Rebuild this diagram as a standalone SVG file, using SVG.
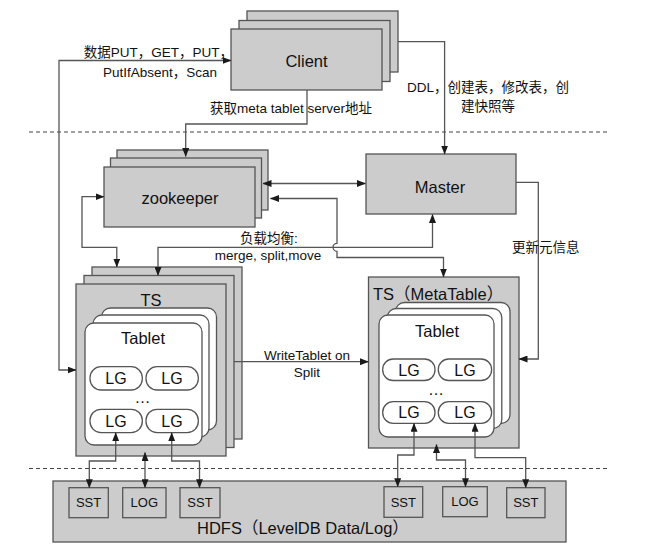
<svg xmlns="http://www.w3.org/2000/svg" width="649" height="554" viewBox="0 0 649 554">
<style>
.box{fill:#cccccc;stroke:#555;stroke-width:1.3}
.wb{fill:#ffffff;stroke:#555;stroke-width:1.3}
.edge{fill:none;stroke:#555;stroke-width:1.3}
.sep{stroke:#444;stroke-width:1.2;stroke-dasharray:4 3}
text{font-family:"Liberation Sans","Noto Sans CJK SC",sans-serif;fill:#111}
.lbl{font-size:13.5px;text-anchor:middle}
.nd{font-size:16.5px;text-anchor:middle}
.lg{font-size:16px;text-anchor:middle}
.sm{font-size:13px;text-anchor:middle}
</style>
<defs>
<marker id="ah" viewBox="0 0 9 7" refX="8.5" refY="3.5" markerWidth="9" markerHeight="7" markerUnits="userSpaceOnUse" orient="auto-start-reverse">
<path d="M0,0 L9,3.5 L0,7 z" fill="#1a1a1a"/>
</marker>
</defs>
<rect width="649" height="554" fill="#ffffff"/>

<g id="separators">
<line class="sep" x1="29" y1="132" x2="608" y2="132"/>
<line class="sep" x1="29" y1="468.5" x2="608" y2="468.5"/>
</g>

<g id="client">
<rect class="box" x="247" y="11" width="151" height="61"/>
<rect class="box" x="239" y="20.5" width="151" height="61"/>
<rect class="box" x="231" y="29" width="151" height="61"/>
<text class="nd" x="306.5" y="67">Client</text>
</g>

<g id="zookeeper">
<rect class="box" x="117" y="150" width="151" height="60"/>
<rect class="box" x="110.5" y="158" width="151" height="60"/>
<rect class="box" x="104" y="167" width="151" height="60"/>
<text class="nd" x="180" y="203.5">zookeeper</text>
</g>

<g id="master">
<rect class="box" x="366" y="154" width="150" height="60"/>
<text class="nd" x="440" y="193">Master</text>
</g>

<g id="ts">
<rect class="box" x="92" y="267" width="150" height="172"/>
<rect class="box" x="84" y="275.5" width="150" height="172"/>
<rect class="box" x="76" y="284" width="150" height="172"/>
<text class="nd" x="151" y="306">TS</text>
<rect class="wb" x="101.5" y="308" width="115" height="122" rx="9"/>
<rect class="wb" x="93" y="315" width="116" height="122" rx="9"/>
<rect class="wb" x="85" y="323" width="117" height="122" rx="9"/>
<text class="nd" x="143" y="344">Tablet</text>
<rect class="wb" x="90" y="366.7" width="52.3" height="23.3" rx="11"/>
<rect class="wb" x="146" y="366.7" width="52.3" height="23.3" rx="11"/>
<rect class="wb" x="90" y="409.3" width="52.3" height="23.3" rx="11"/>
<rect class="wb" x="146" y="409.3" width="52.3" height="23.3" rx="11"/>
<text class="lg" x="116" y="384">LG</text>
<text class="lg" x="172" y="384">LG</text>
<text class="lg" x="116" y="426.7">LG</text>
<text class="lg" x="172" y="426.7">LG</text>
<text class="lg" x="142.5" y="403">…</text>
</g>

<g id="ts-metatable">
<rect class="box" x="368.5" y="277" width="150.5" height="171"/>
<text x="373" y="300" style="font-size:16.5px">TS（MetaTable）</text>
<rect class="wb" x="395.5" y="302.5" width="114.5" height="121" rx="9"/>
<rect class="wb" x="387.3" y="308.5" width="114.5" height="120" rx="9"/>
<rect class="wb" x="379" y="315" width="115" height="122" rx="9"/>
<text class="nd" x="437" y="337">Tablet</text>
<rect class="wb" x="382.7" y="359" width="52.3" height="21.5" rx="10.5"/>
<rect class="wb" x="438.3" y="359" width="53.3" height="21.5" rx="10.5"/>
<rect class="wb" x="382.7" y="401.7" width="52.3" height="21.6" rx="10.5"/>
<rect class="wb" x="438.3" y="401.7" width="53.3" height="21.6" rx="10.5"/>
<text class="lg" x="409" y="375.5">LG</text>
<text class="lg" x="465" y="375.5">LG</text>
<text class="lg" x="409" y="418.3">LG</text>
<text class="lg" x="465" y="418.3">LG</text>
<text class="lg" x="436" y="395">…</text>
</g>

<g id="hdfs">
<rect class="box" x="53" y="481" width="513" height="61"/>
<text x="197" y="534" style="font-size:16.5px">HDFS（LevelDB Data/Log）</text>
</g>
<g id="sst1"><rect class="box" x="69" y="487.7" width="39.3" height="30"/><text class="sm" x="88.6" y="507.3">SST</text></g>
<g id="log1"><rect class="box" x="122.7" y="487.7" width="43.3" height="30"/><text class="sm" x="144.3" y="507.3">LOG</text></g>
<g id="sst2"><rect class="box" x="180" y="487.7" width="40" height="30"/><text class="sm" x="200" y="507.3">SST</text></g>
<g id="sst3"><rect class="box" x="384" y="486.7" width="38.7" height="30.6"/><text class="sm" x="403.3" y="506.5">SST</text></g>
<g id="log2"><rect class="box" x="442.7" y="486.7" width="44.6" height="30"/><text class="sm" x="465" y="506.2">LOG</text></g>
<g id="sst4"><rect class="box" x="506.7" y="487.7" width="38.3" height="30"/><text class="sm" x="525.8" y="507.3">SST</text></g>

<g id="connectors">
<path class="edge" d="M76,370 H59 V60.5 H231" marker-start="url(#ah)" marker-end="url(#ah)"/>
<path class="edge" d="M307,90 V124 H185.7 V156.5" marker-end="url(#ah)"/>
<path class="edge" d="M398,41.7 H444.6 V154" marker-end="url(#ah)"/>
<path class="edge" d="M263,183.5 H365.5" marker-start="url(#ah)" marker-end="url(#ah)"/>
<path class="edge" d="M270.5,198.5 H337 V243.3 A4,4 0 0 0 337,251.3 V257.5 H443.5 V277" marker-start="url(#ah)" marker-end="url(#ah)"/>
<path class="edge" d="M432.5,214.5 V247.3 H158 V275.5" marker-start="url(#ah)" marker-end="url(#ah)"/>
<path class="edge" d="M104,196.7 H82 V247.3 H116.8 V267" marker-start="url(#ah)" marker-end="url(#ah)"/>
<path class="edge" d="M516,182.3 H538.3 V359 H519" marker-end="url(#ah)"/>
<path class="edge" d="M234,361.7 H368.5" marker-end="url(#ah)"/>
<path class="edge" d="M115.7,432.7 V461 H89.3 V487.7" marker-start="url(#ah)" marker-end="url(#ah)"/>
<path class="edge" d="M145,452.5 V487.7" marker-start="url(#ah)" marker-end="url(#ah)"/>
<path class="edge" d="M171.7,432.7 V461 H199.5 V487.7" marker-start="url(#ah)" marker-end="url(#ah)"/>
<path class="edge" d="M414,423.3 V455 H397.7 V486.7" marker-start="url(#ah)" marker-end="url(#ah)"/>
<path class="edge" d="M436.5,444.5 V460 H465.5 V486.7" marker-start="url(#ah)" marker-end="url(#ah)"/>
<path class="edge" d="M475,423.3 V457.7 H525.7 V487.7" marker-start="url(#ah)" marker-end="url(#ah)"/>
</g>

<g id="labels">
<text class="lbl" x="158.5" y="57">数据PUT，GET，PUT，</text>
<text class="lbl" x="160" y="77">PutIfAbsent，Scan</text>
<text class="lbl" x="291" y="113">获取meta tablet server地址</text>
<text class="lbl" x="488" y="92">DDL，创建表，修改表，创</text>
<text class="lbl" x="488" y="111">建快照等</text>
<text class="lbl" x="269" y="243">负载均衡:</text>
<text class="lbl" x="268" y="260">merge, split,move</text>
<text class="lbl" x="545.7" y="252">更新元信息</text>
<text class="lbl" x="307" y="360">WriteTablet on</text>
<text class="lbl" x="307" y="376.5">Split</text>
</g>
</svg>
